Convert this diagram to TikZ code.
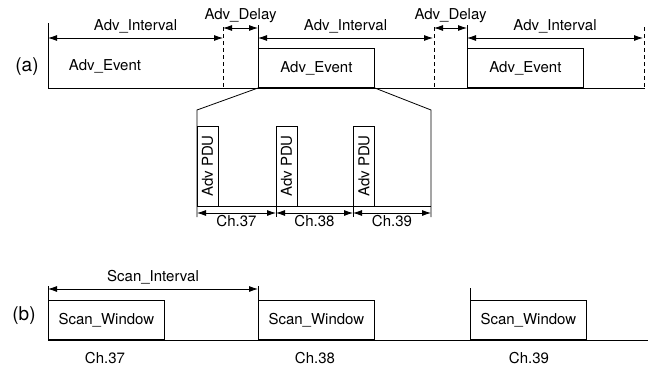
\documentclass[tikz,border=0pt]{standalone}
\usepackage{fontspec}
\setmainfont{TeX Gyre Heros}
\usetikzlibrary{arrows,arrows.meta,positioning,calc}

\begin{document}
\begin{tikzpicture}[x=1pt,y=-1pt,line width=0.8pt,>={Latex[length=9pt,width=6pt]},
  txt/.style={font=\fontsize{15}{18}\selectfont},
  big/.style={font=\fontsize{19}{22}\selectfont},
  evbox/.style={draw,minimum width=116pt,minimum height=39pt,anchor=south west,inner sep=0pt,txt},
  pdu/.style={draw,minimum width=80pt,minimum height=21pt,rotate=90,inner sep=0pt,txt},
  guide/.style={dashed,dash pattern=on 4pt off 3pt},
  span/.style={<->}]
  \useasboundingbox (0,0) rectangle (656,367);
  % (a) advertising
  \node[big] (la) at (27,67) {(a)};
  \coordinate (s0) at (48,23);  \coordinate (b0) at (48,88);
  \coordinate (s1) at (258,25); \coordinate (b1) at (258,88);
  \coordinate (s2) at (467,25); \coordinate (b2) at (467,88);
  \coordinate (bend) at (645,88);
  \node[txt] (ev1) at (105,66) {Adv\_Event};
  \node[evbox] (ev2) at (b1) {Adv\_Event};
  \node[evbox] (ev3) at (b2) {Adv\_Event};
  \draw (s0) -- (b0) -- (bend);
  \draw (s1) -- (b1);
  \draw (s2) -- (b2);
  \foreach \x [count=\i] in {223,434,644}
    \draw[guide] (\x,27) coordinate (d\i) -- (\x,88);
  % intervals
  \draw[span] (48,38) -- node[txt,above=1pt] {Adv\_Interval} (223,38);
  \draw[span] (258,38) -- node[txt,above=1pt] {Adv\_Interval} (433,38);
  \draw[span] (467,38) -- node[txt,above=1pt] {Adv\_Interval} (643,38);
  \draw[span] (223,28) -- node[txt,above=1pt] (dl1) {Adv\_Delay} (258,28);
  \draw[span] (434,28) -- node[txt,above=1pt] (dl2) {Adv\_Delay} (467,28);
  % zoom of one event
  \draw (ev2.south west) -- (197,110) -- (197,217);
  \draw (ev2.south east) -- (431,110) -- (431,217);
  \draw (197,206) -- (431,206);
  \node[pdu] (p1) at (207.5,166) {Adv PDU};
  \node[pdu] (p2) at (286.5,166) {Adv PDU};
  \node[pdu] (p3) at (364,166) {Adv PDU};
  \draw (276,206) -- (276,217);
  \draw (353,206) -- (353,217);
  \draw[span] (197,213) -- node[txt,below=-1pt] {Ch.37} (276,213);
  \draw[span] (276,213) -- node[txt,below=-1pt] {Ch.38} (353,213);
  \draw[span] (353,213) -- node[txt,below=-1pt] {Ch.39} (431,213);
  % (b) scanning
  \node[big] (lb) at (24,316) {(b)};
  \coordinate (t0) at (48,286);  \coordinate (c0) at (48,340);
  \coordinate (t1) at (258,286); \coordinate (c1) at (258,340);
  \coordinate (t2) at (470,288); \coordinate (c2) at (470,340);
  \coordinate (cend) at (648,340);
  \node[evbox] (sw1) at (c0) {Scan\_Window};
  \node[evbox] (sw2) at (c1) {Scan\_Window};
  \node[evbox] (sw3) at (c2) {Scan\_Window};
  \draw (t0) -- (c0) -- (cend);
  \draw (t1) -- (c1);
  \draw (t2) -- (c2);
  \draw[span] (48,289) -- node[txt,above=1pt] {Scan\_Interval} (258,289);
  \node[txt] (ch1) at (105,358) {Ch.37};
  \node[txt] (ch2) at (315,358) {Ch.38};
  \node[txt] (ch3) at (529,358) {Ch.39};
\end{tikzpicture}
\end{document}
